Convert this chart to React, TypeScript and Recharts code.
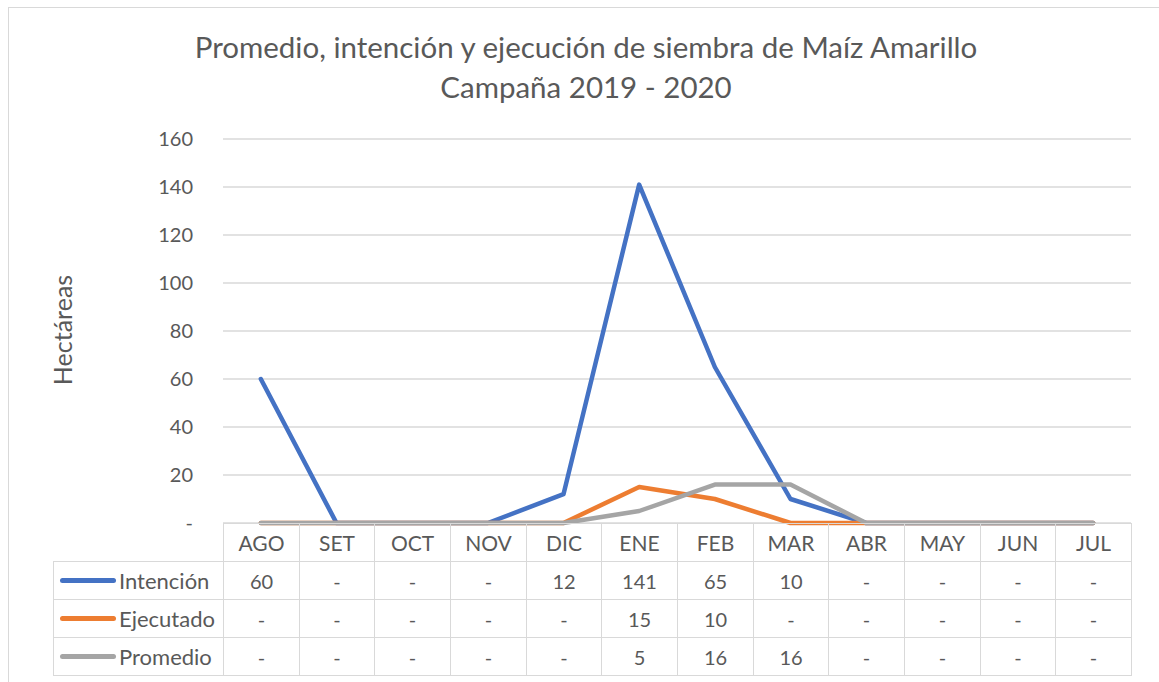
import { LineChart, Line, XAxis, YAxis, CartesianGrid } from "recharts";

const months = ["AGO", "SET", "OCT", "NOV", "DIC", "ENE", "FEB", "MAR", "ABR", "MAY", "JUN", "JUL"];
const intencion = [60, 0, 0, 0, 12, 141, 65, 10, 0, 0, 0, 0];
const ejecutado = [0, 0, 0, 0, 0, 15, 10, 0, 0, 0, 0, 0];
const promedio = [0, 0, 0, 0, 0, 5, 16, 16, 0, 0, 0, 0];
const yTicks = [0, 20, 40, 60, 80, 100, 120, 140, 160];

const series = [
  { key: "intencion", name: "Intención", color: "#4472C4", values: intencion },
  { key: "ejecutado", name: "Ejecutado", color: "#ED7D31", values: ejecutado },
  { key: "promedio", name: "Promedio", color: "#A5A5A5", values: promedio },
];

const data = months.map((m, i) => ({
  month: m,
  intencion: intencion[i],
  ejecutado: ejecutado[i],
  promedio: promedio[i],
}));

const FONT = "Lato, 'Open Sans', sans-serif";
const TEXT = "#595959";
const LINE = "#d9d9d9";

// layout of the plot area / data table
const PLOT_L = 223;
const PLOT_R = 1131;
const PLOT_T = 139;
const PLOT_B = 523;
const COL_W = (PLOT_R - PLOT_L) / months.length;
const ROW_H = 38;
const TABLE_L = 53;

const fmt = (v: number) => (v === 0 ? "-" : String(v));
const colX = (i: number) => Math.round(PLOT_L + i * COL_W);

export default function App() {
  const cell = (left: number, top: number, width: number, content: React.ReactNode, key: string, fontSize = 20) => (
    <div
      key={key}
      style={{
        position: "absolute",
        left,
        top,
        width,
        height: ROW_H + 1,
        boxSizing: "border-box",
        border: `1px solid ${LINE}`,
        display: "flex",
        alignItems: "center",
        justifyContent: "center",
        color: TEXT,
        fontSize,
        fontFamily: FONT,
      }}
    >
      {content}
    </div>
  );

  return (
    <div style={{ position: "absolute", left: 0, top: 0, width: 1159, height: 682, overflow: "hidden", background: "#fff" }}>
      <div style={{ position: "absolute", left: 8, top: 7, width: 1200, height: 720, border: `1px solid ${LINE}`, boxSizing: "border-box" }} />
      <div style={{ position: "absolute", left: 0, top: 27, width: 1172, textAlign: "center", color: TEXT, fontFamily: FONT, fontSize: 29.5, lineHeight: "40px" }}>
        Promedio, intención y ejecución de siembra de Maíz Amarillo
        <br />
        Campaña 2019 - 2020
      </div>
      <div
        style={{
          position: "absolute",
          left: 62,
          top: 330,
          transform: "translate(-50%, -50%) rotate(-90deg)",
          color: TEXT,
          fontFamily: FONT,
          fontSize: 25,
          whiteSpace: "nowrap",
        }}
      >
        Hectáreas
      </div>
      <div style={{ position: "absolute", left: 0, top: 0 }}>
        <LineChart
          width={1159}
          height={682}
          data={data}
          margin={{ top: PLOT_T, right: 1159 - PLOT_R, bottom: 682 - PLOT_B, left: PLOT_L - 80 }}
        >
          <CartesianGrid vertical={false} stroke={LINE} strokeWidth={1.3} />
          <XAxis dataKey="month" hide padding={{ left: COL_W / 2, right: COL_W / 2 }} />
          <YAxis
            width={80}
            domain={[0, 160]}
            ticks={yTicks}
            interval={0}
            axisLine={false}
            tickLine={false}
            tickSize={0}
            tickMargin={30}
            tickFormatter={fmt}
            tick={{ fill: TEXT, fontSize: 20, fontFamily: FONT }}
          />
          {series.map((s) => (
            <Line
              key={s.key}
              dataKey={s.key}
              type="linear"
              stroke={s.color}
              strokeWidth={4.5}
              strokeLinecap="round"
              strokeLinejoin="round"
              dot={false}
              activeDot={false}
              isAnimationActive={false}
            />
          ))}
        </LineChart>
      </div>
      {months.map((m, i) => cell(colX(i), PLOT_B, colX(i + 1) - colX(i) + 1, m, `h-${i}`, 21))}
      {series.map((s, r) => (
        <div key={s.key}>
          {cell(
            TABLE_L,
            PLOT_B + (r + 1) * ROW_H,
            PLOT_L - TABLE_L + 1,
            <div style={{ display: "flex", alignItems: "center", width: "100%", paddingLeft: 6 }}>
              <div style={{ width: 56, height: 5, borderRadius: 3, background: s.color, marginRight: 3 }} />
              <span>{s.name}</span>
            </div>,
            `l-${r}`,
            22
          )}
          {s.values.map((v, i) =>
            cell(colX(i), PLOT_B + (r + 1) * ROW_H, colX(i + 1) - colX(i) + 1, fmt(v), `c-${r}-${i}`)
          )}
        </div>
      ))}
    </div>
  );
}
